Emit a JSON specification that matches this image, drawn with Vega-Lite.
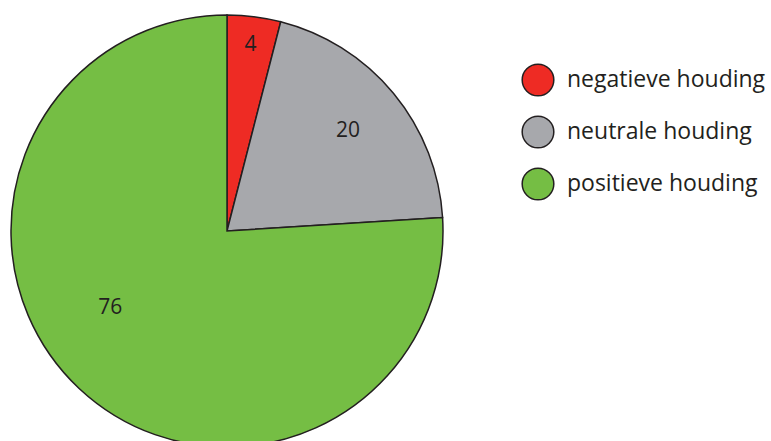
{
  "$schema": "https://vega.github.io/schema/vega-lite/v6.json",
  "width": 454,
  "height": 462,
  "padding": 0,
  "autosize": {"type": "pad"},
  "config": {"view": {"stroke": null}, "font": "Open Sans"},
  "data": {
    "values": [
      {"houding": "negatieve houding", "percentage": 4},
      {"houding": "neutrale houding", "percentage": 20},
      {"houding": "positieve houding", "percentage": 76}
    ]
  },
  "encoding": {
    "theta": {"field": "percentage", "type": "quantitative", "stack": true},
    "color": {
      "field": "houding",
      "type": "nominal",
      "scale": {
        "domain": ["negatieve houding", "neutrale houding", "positieve houding"],
        "range": ["#EE2B24", "#A7A8AC", "#75BE44"]
      },
      "legend": {
        "orient": "none",
        "legendX": 521,
        "legendY": 63,
        "title": null,
        "padding": 0,
        "symbolType": "circle",
        "symbolSize": 1000,
        "symbolStrokeColor": "#231f20",
        "symbolStrokeWidth": 1.5,
        "symbolOpacity": 1,
        "labelFont": "Open Sans",
        "labelFontSize": 23,
        "labelColor": "#231f20",
        "labelOffset": 12,
        "labelLimit": 300,
        "rowPadding": 14
      }
    }
  },
  "layer": [
    {
      "mark": {"type": "arc", "outerRadius": 216, "stroke": "#231f20", "strokeWidth": 1.5}
    },
    {
      "mark": {"type": "text", "radius": 187, "fontSize": 21, "color": "#231f20"},
      "encoding": {
        "text": {"condition": {"test": "datum.percentage == 4", "field": "percentage"}, "value": ""},
        "color": {"value": "#231f20"}
      }
    },
    {
      "mark": {"type": "text", "radius": 157, "fontSize": 21, "color": "#231f20"},
      "encoding": {
        "text": {"condition": {"test": "datum.percentage == 20", "field": "percentage"}, "value": ""},
        "color": {"value": "#231f20"}
      }
    },
    {
      "mark": {"type": "text", "radius": 140, "dx": -21, "dy": -25, "fontSize": 21, "color": "#231f20"},
      "encoding": {
        "text": {"condition": {"test": "datum.percentage == 76", "field": "percentage"}, "value": ""},
        "color": {"value": "#231f20"}
      }
    }
  ]
}
